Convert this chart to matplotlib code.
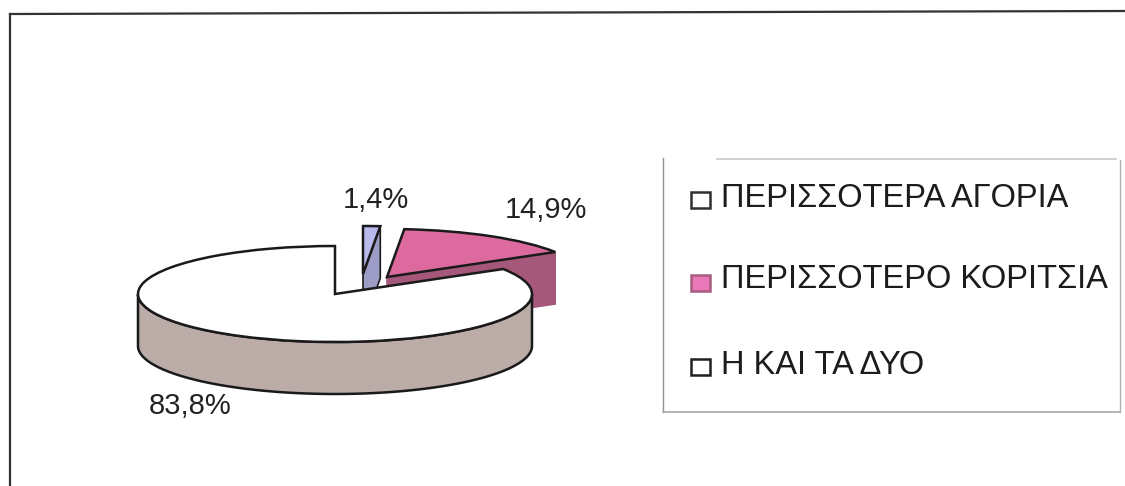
import numpy as np
import matplotlib
matplotlib.use("Agg")
import matplotlib.pyplot as plt
from matplotlib.patches import Polygon, Rectangle
from matplotlib.transforms import Affine2D

plt.rcParams['font.family'] = ['Liberation Sans', 'DejaVu Sans']

categories = ["ΠΕΡΙΣΣΟΤΕΡΑ ΑΓΟΡΙΑ", "ΠΕΡΙΣΣΟΤΕΡΟ ΚΟΡΙΤΣΙΑ", "Η ΚΑΙ ΤΑ ΔΥΟ"]
values = [1.4, 14.9, 83.8]
value_labels = ["1,4%", "14,9%", "83,8%"]

top_colors = ["#b9b9ee", "#dc6a9e", "#ffffff"]
wall_colors = ["#9c9cc6", "#a5587a", "#bcaca8"]
legend_colors = ["#ffffff", "#e878b8", "#ffffff"]
legend_edges = ["#303030", "#a85c80", "#202020"]
centers = [(363, 274), (387, 277), (335, 294)]
label_pos = [(376, 200), (546, 210), (190, 406)]
legend_text_y = [198, 279, 365]
legend_mark_y = [200, 283, 367]

RX, RY, DEPTH = 197, 48, 52
EDGE = "#1a1a1a"

fig = plt.figure(figsize=(11.25, 4.86), dpi=100)
ax = fig.add_axes([0, 0, 1, 1])
wedges, _ = ax.pie(values, startangle=90, counterclock=False, radius=RX,
                   colors=top_colors,
                   wedgeprops=dict(edgecolor=EDGE, linewidth=1.8, zorder=5))
ax.set_aspect('auto')
ax.set_xlim(0, 1125)
ax.set_ylim(486, 0)
ax.axis('off')

fracs = np.array(values) / sum(values)
edges = np.concatenate([[0], np.cumsum(fracs)]) * 2 * np.pi


def rim(c, t):
    return np.c_[c[0] + RX * np.sin(t), c[1] - RY * np.cos(t)]


order = [1, 0, 2]
for layer, i in enumerate(order):
    c = centers[i]
    t0, t1 = edges[i], edges[i + 1]
    z = 2 + layer * 2
    # outer wall (front part of the rim)
    lo, hi = max(t0, np.pi / 2), min(t1, 3 * np.pi / 2)
    if hi > lo:
        t = np.linspace(lo, hi, 120)
        a = rim(c, t)
        b = a[::-1] + [0, DEPTH]
        ax.add_patch(Polygon(np.r_[a, b], closed=True, fc=wall_colors[i],
                             ec=EDGE, lw=1.8, zorder=z))
    # inner cut wall at the closing edge of the slice
    if i < 2:
        end = rim(c, np.array([t1]))[0]
        start = np.array(c, float)
        ax.add_patch(Polygon([start, end, end + [0, DEPTH], start + [0, DEPTH]],
                             closed=True, fc=wall_colors[i],
                             ec=EDGE if i == 0 else wall_colors[i],
                             lw=1.2, zorder=z))
    wedges[i].set_transform(Affine2D().scale(1, -RY / RX).translate(*c) + ax.transData)
    wedges[i].set_center((0, 0))
    wedges[i].set_zorder(z + 1)

for txt, (x, y) in zip(value_labels, label_pos):
    ax.text(x, y, txt, ha='center', va='center', fontsize=21, color="#222222", zorder=9)

# outer frame
ax.plot([10, 10], [486, 14], color="#333333", lw=1.6, zorder=1)
ax.plot([10, 1125], [14, 11], color="#333333", lw=1.6, zorder=1)

# legend box
ax.plot([663, 663], [158, 412], color="#909090", lw=1, zorder=1)
ax.plot([663, 1120], [412, 412], color="#a8a8a8", lw=1.2, zorder=1)
ax.plot([1120, 1120], [160, 412], color="#b0b0b0", lw=1, zorder=1)
ax.plot([717, 1116], [159, 159], color="#c8c8c8", lw=1.2, zorder=1)

for txt, col, ec, ty, my in zip(categories, legend_colors, legend_edges,
                                legend_text_y, legend_mark_y):
    ax.add_patch(Rectangle((691, my - 8), 19, 16, fc=col, ec=ec, lw=1.8, zorder=3))
    ax.text(721, ty, txt, ha='left', va='center', fontsize=23.5, color="#1c1c1c", zorder=3)

fig.savefig("out.png", dpi=100)
